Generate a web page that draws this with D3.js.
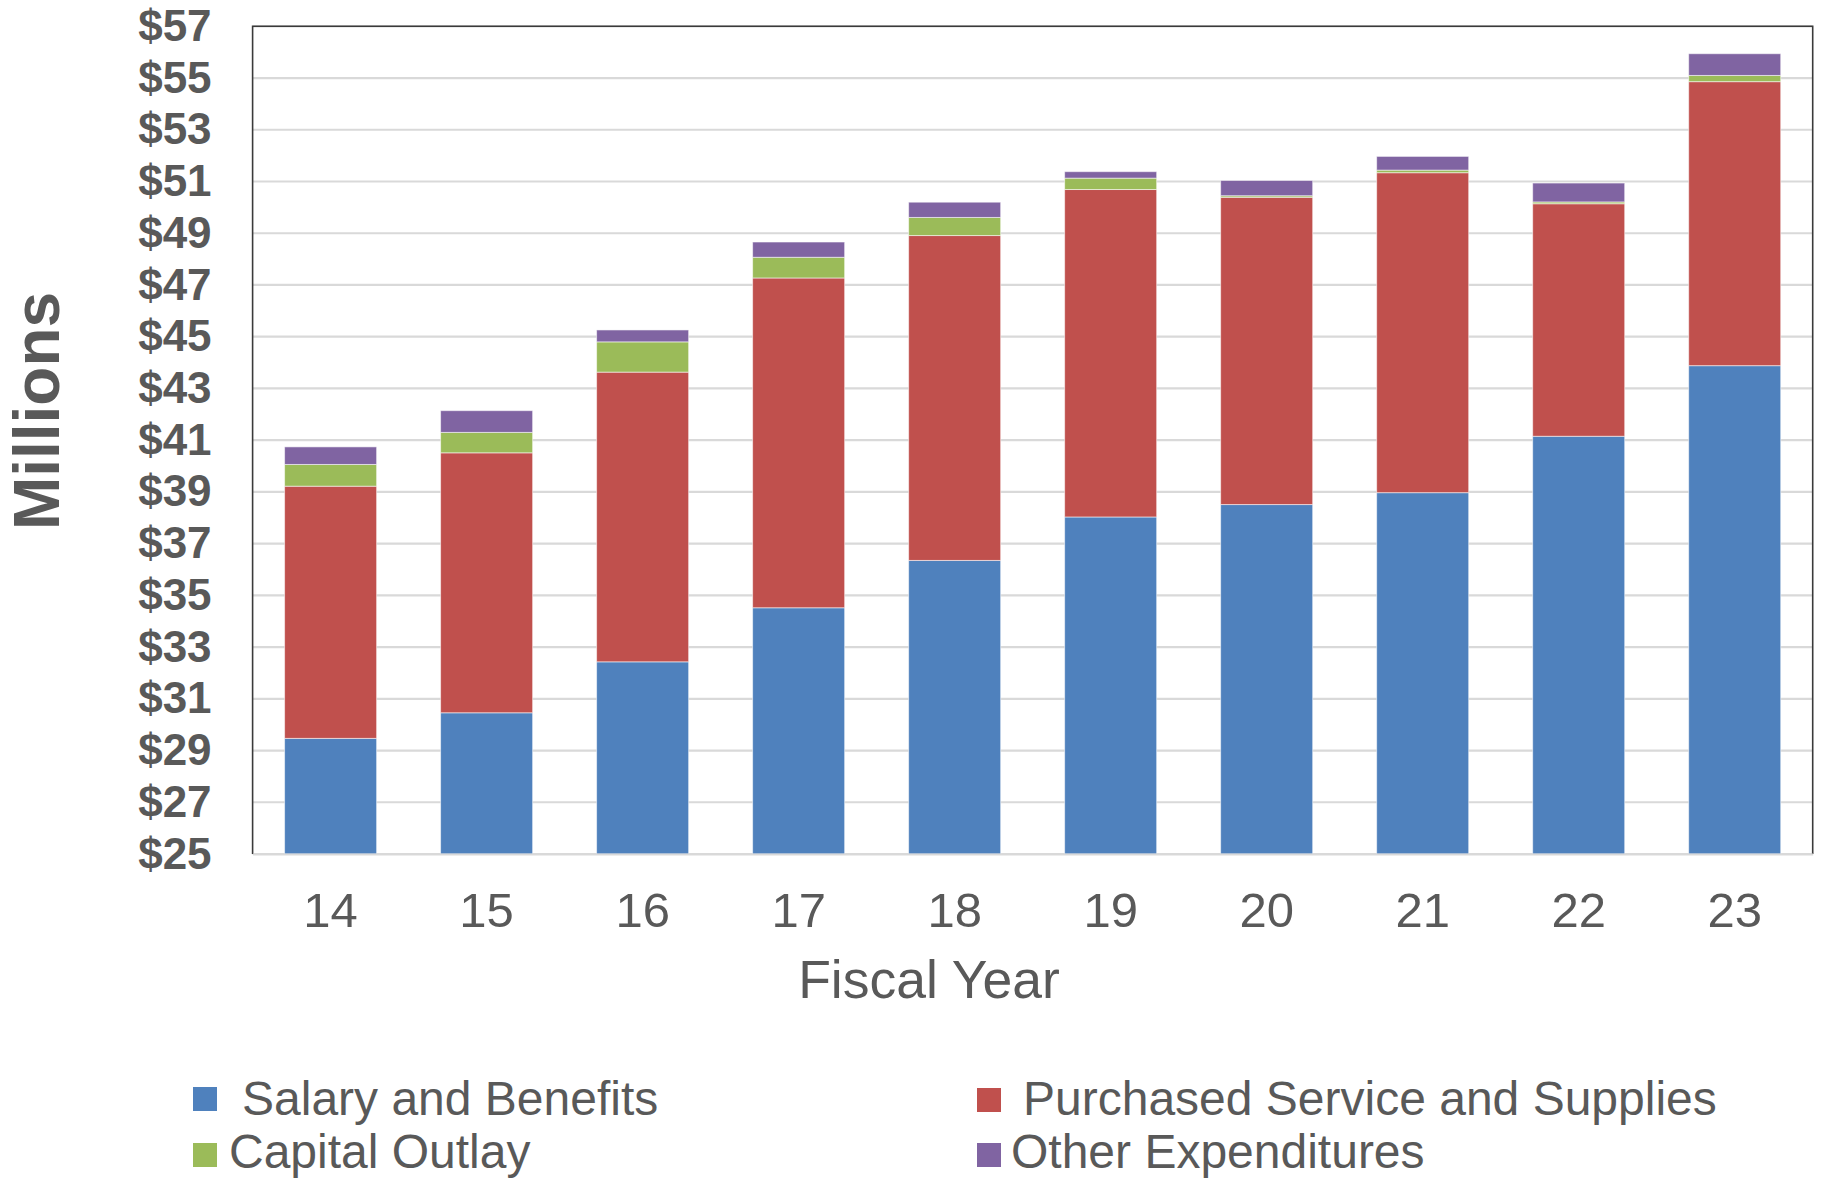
<!DOCTYPE html>
<html>
<head>
<meta charset="utf-8">
<script src="https://cdn.jsdelivr.net/npm/d3@7"></script>
<style>
  html, body { margin: 0; padding: 0; background: #ffffff; }
  svg { display: block; }
  text { font-family: "Liberation Sans", Arial, sans-serif; fill: #595959; }
</style>
</head>
<body>
<svg id="chart" width="1824" height="1179"></svg>
<script>
// ---- Data (millions of dollars) ----
const years = ["14", "15", "16", "17", "18", "19", "20", "21", "22", "23"];
const salaryBenefits = [29.47, 30.46, 32.43, 34.52, 36.35, 38.03, 38.51, 38.97, 41.15, 43.88];
const purchasedServices = [9.75, 10.05, 11.20, 12.75, 12.56, 12.66, 11.88, 12.37, 8.99, 10.98];
const capitalOutlay = [0.84, 0.79, 1.17, 0.80, 0.70, 0.44, 0.06, 0.10, 0.07, 0.24];
const otherExpenditures = [0.68, 0.84, 0.46, 0.59, 0.59, 0.25, 0.59, 0.53, 0.73, 0.84];
const yTicks = [25, 27, 29, 31, 33, 35, 37, 39, 41, 43, 45, 47, 49, 51, 53, 55, 57];
const seriesNames = ["Salary and Benefits", "Purchased Service and Supplies", "Capital Outlay", "Other Expenditures"];
const seriesColors = ["#4f81bd", "#c0504d", "#9bbb59", "#8064a2"];

// ---- Build table ----
const keys = ["salary", "purchased", "capital", "other"];
const table = years.map((yr, i) => ({
  year: yr,
  salary: salaryBenefits[i],
  purchased: purchasedServices[i],
  capital: capitalOutlay[i],
  other: otherExpenditures[i]
}));

const svg = d3.select("#chart");
const plot = { left: 252.6, right: 1812.7, top: 26.3, bottom: 854 };

const x = d3.scaleBand().domain(years).range([plot.left, plot.right])
  .paddingInner(0.41).paddingOuter(0.205);
const y = d3.scaleLinear().domain([25, 57]).range([plot.bottom, plot.top]);

// gridlines
svg.append("g")
  .selectAll("line")
  .data(yTicks)
  .join("line")
  .attr("x1", plot.left).attr("x2", plot.right)
  .attr("y1", d => y(d)).attr("y2", d => y(d))
  .attr("stroke", "#d9d9d9").attr("stroke-width", 2.2);

// stacked bars
const stacked = d3.stack().keys(keys)(table);
const color = d3.scaleOrdinal().domain(keys).range(seriesColors);

svg.append("g")
  .selectAll("g")
  .data(stacked)
  .join("g")
  .attr("fill", d => color(d.key))
  .selectAll("rect")
  .data(d => d)
  .join("rect")
  .attr("x", d => x(d.data.year))
  .attr("width", x.bandwidth())
  .attr("y", d => y(d[1]))
  .attr("height", d => Math.max(0, y(Math.max(d[0], 25)) - y(d[1])))
  .attr("stroke", "#ffffff").attr("stroke-opacity", 0.55).attr("stroke-width", 1);

// plot border (top, left, right)
svg.append("path")
  .attr("d", `M${plot.left},${plot.bottom} V${plot.top} H${plot.right} V${plot.bottom}`)
  .attr("fill", "none").attr("stroke", "#3a3a3a").attr("stroke-width", 1.6);

// y axis
const yAxis = d3.axisLeft(y).tickValues(yTicks).tickFormat(d => "$" + d).tickSize(0).tickPadding(41);
const yg = svg.append("g").attr("transform", `translate(${plot.left},0)`).call(yAxis);
yg.select(".domain").remove();
yg.selectAll("text")
  .attr("font-family", "Liberation Sans, Arial, sans-serif")
  .attr("font-size", 44).attr("font-weight", "bold").attr("fill", "#595959");

// x axis
const xAxis = d3.axisBottom(x).tickSize(0).tickPadding(0);
const xg = svg.append("g").attr("transform", `translate(0,${plot.bottom})`).call(xAxis);
xg.select(".domain").attr("stroke", "#d9d9d9").attr("stroke-width", 2.2);
xg.selectAll("text")
  .attr("font-family", "Liberation Sans, Arial, sans-serif")
  .attr("font-size", 49).attr("fill", "#595959")
  .attr("dy", null).attr("y", 73);

// axis titles
svg.append("text")
  .attr("x", 929).attr("y", 998)
  .attr("text-anchor", "middle")
  .attr("font-size", 53.5)
  .text("Fiscal Year");

svg.append("text")
  .attr("transform", "translate(59,411) rotate(-90)")
  .attr("text-anchor", "middle")
  .attr("font-size", 64).attr("font-weight", "bold")
  .text("Millions");

// legend
const legendItems = [
  { name: seriesNames[0], color: seriesColors[0], sx: 193, sy: 1087, tx: 242, ty: 1115 },
  { name: seriesNames[1], color: seriesColors[1], sx: 977, sy: 1088, tx: 1023, ty: 1115 },
  { name: seriesNames[2], color: seriesColors[2], sx: 193, sy: 1143, tx: 229, ty: 1168 },
  { name: seriesNames[3], color: seriesColors[3], sx: 977, sy: 1143, tx: 1011, ty: 1168 }
];
const lg = svg.append("g");
lg.selectAll("rect")
  .data(legendItems)
  .join("rect")
  .attr("x", d => d.sx).attr("y", d => d.sy)
  .attr("width", 24).attr("height", 24)
  .attr("fill", d => d.color);
lg.selectAll("text")
  .data(legendItems)
  .join("text")
  .attr("x", d => d.tx).attr("y", d => d.ty)
  .attr("font-size", 48)
  .text(d => d.name);
</script>
</body>
</html>
